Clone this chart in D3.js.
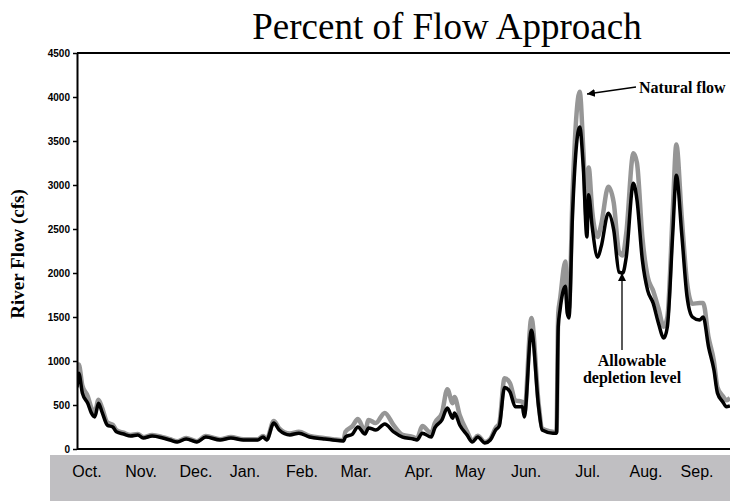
<!DOCTYPE html>
<html>
<head>
<meta charset="utf-8">
<script src="https://cdn.jsdelivr.net/npm/d3@7"></script>
<style>
  body { margin: 0; background: #fff; }
  svg { display: block; }
</style>
</head>
<body>
<script>
var svgWidth = 730;
var svgHeight = 501;

// day of water year (0 = Oct 1)
var days = [0, 1, 3, 6, 8, 10, 12, 14, 17, 20, 22, 26, 30, 34, 37, 42, 48, 52, 56, 61,
  67, 72, 80, 86, 93, 101, 104, 106, 110, 113, 119, 124, 130, 138, 143, 149, 150, 154, 157, 161,
  163, 167, 172, 177, 182, 188, 190, 193, 198, 200, 204, 207, 210, 211, 214, 218, 221, 224, 228, 231,
  234, 236, 239, 242, 245, 249, 250, 254, 258, 260, 266, 268, 269, 270, 273, 274, 275, 277, 281, 283,
  285, 286, 288, 291, 293, 297, 300, 303, 305, 307, 311, 313, 316, 319, 322, 325, 328, 330, 333, 335,
  338, 341, 344, 348, 350, 353, 356, 358, 361, 363, 365];

var naturalFlow = [800, 960, 720, 600, 470, 420, 560, 470, 300, 275, 215, 185, 160, 170, 135, 160, 135, 112, 88, 125,
  88, 148, 112, 135, 112, 112, 148, 112, 318, 235, 175, 195, 148, 125, 112, 100, 195, 260, 340, 205,
  330, 295, 410, 270, 160, 136, 120, 260, 180, 295, 410, 680, 520, 590, 380, 200, 95, 150, 80, 115,
  240, 290, 805, 750, 555, 535, 400, 1490, 520, 235, 195, 190, 1545, 1700, 2130, 1650, 1600, 2900, 4060, 3400,
  2600, 3200, 2700, 2410, 2550, 2980, 2800, 2240, 2200, 2450, 3360, 3250, 2410, 1955, 1800, 1600, 1390, 1500, 2700, 3460,
  2640, 1890, 1650, 1660, 1660, 1270, 1000, 700, 600, 555, 580];

var allowableFlow = [700, 860, 635, 520, 410, 365, 520, 420, 270, 250, 195, 170, 148, 160, 125, 148, 125, 102, 80, 114,
  80, 136, 102, 125, 102, 102, 136, 102, 295, 216, 160, 180, 136, 114, 102, 92, 136, 170, 250, 170,
  240, 216, 285, 195, 136, 114, 102, 180, 136, 240, 330, 465, 350, 410, 270, 160, 80, 136, 68, 102,
  216, 260, 700, 650, 480, 480, 365, 1350, 480, 216, 180, 180, 1390, 1580, 1850, 1545, 1490, 2680, 3660, 3200,
  2410, 2890, 2520, 2180, 2300, 2680, 2490, 2010, 2000, 2180, 3020, 2830, 2150, 1800, 1660, 1430, 1260, 1390, 2450, 3110,
  2450, 1730, 1500, 1465, 1500, 1160, 900, 635, 535, 480, 490];

var months = ["Oct.", "Nov.", "Dec.", "Jan.", "Feb.", "Mar.", "Apr.", "May", "Jun.", "Jul.", "Aug.", "Sep."];
var monthLabelDays = [5.6, 35.8, 66.5, 93.9, 125.8, 156, 191.2, 219.7, 251, 285.5, 318, 346.6];

var yTicks = [0, 500, 1000, 1500, 2000, 2500, 3000, 3500, 4000, 4500];

var svg = d3.select("body")
  .append("svg")
  .attr("width", svgWidth)
  .attr("height", svgHeight);

var xScale = d3.scaleLinear()
  .domain([0, 365])
  .range([77, 730]);

var yScale = d3.scaleLinear()
  .domain([0, 4500])
  .range([449, 53]);

// gray month band
svg.append("rect")
  .attr("x", 50)
  .attr("y", 455)
  .attr("width", svgWidth - 50)
  .attr("height", svgHeight - 455)
  .attr("fill", "#c0bfc2");

svg.append("text")
  .attr("x", 447)
  .attr("y", 39)
  .attr("text-anchor", "middle")
  .style("font-family", "'Liberation Serif', 'Times New Roman', serif")
  .style("font-size", "37px")
  .text("Percent of Flow Approach");

svg.append("text")
  .attr("transform", "rotate(-90)")
  .attr("x", -254)
  .attr("y", 24)
  .attr("text-anchor", "middle")
  .style("font-family", "'Liberation Serif', 'Times New Roman', serif")
  .style("font-weight", "bold")
  .style("font-size", "19px")
  .text("River Flow (cfs)");

svg.append("clipPath")
  .attr("id", "plot")
  .append("rect")
  .attr("x", 77)
  .attr("y", 40)
  .attr("width", 653)
  .attr("height", 410);

var line = d3.line()
  .x(d => xScale(d[0]))
  .y(d => yScale(d[1]))
  .curve(d3.curveMonotoneX);

var natural = days.map((d, i) => [d, naturalFlow[i]]);
var allowable = days.map((d, i) => [d, allowableFlow[i]]);

var lines = svg.append("g").attr("clip-path", "url(#plot)");

lines.append("path")
  .attr("d", line(natural))
  .attr("fill", "none")
  .attr("stroke", "#969696")
  .attr("stroke-width", 4.5)
  .attr("stroke-linejoin", "round");

lines.append("path")
  .attr("d", line(allowable))
  .attr("fill", "none")
  .attr("stroke", "#000")
  .attr("stroke-width", 3.5)
  .attr("stroke-linejoin", "round");

// frame: top line, bottom line, left axis
svg.append("line")
  .attr("x1", 77).attr("x2", 730)
  .attr("y1", yScale(4500)).attr("y2", yScale(4500))
  .attr("stroke", "#000")
  .attr("stroke-width", 2);

svg.append("line")
  .attr("x1", 77).attr("x2", 730)
  .attr("y1", yScale(0)).attr("y2", yScale(0))
  .attr("stroke", "#000")
  .attr("stroke-width", 2);

var leftAxis = d3.axisLeft(yScale)
  .tickValues(yTicks)
  .tickSize(4)
  .tickSizeOuter(0)
  .tickPadding(3)
  .tickFormat(d3.format("d"));

var yAxisG = svg.append("g")
  .attr("transform", "translate(77,0)")
  .call(leftAxis);

yAxisG.select(".domain").attr("stroke-width", 2);
yAxisG.selectAll(".tick line").attr("stroke-width", 1.5);
yAxisG.selectAll(".tick text")
  .style("font-family", "'Liberation Sans', Arial, sans-serif")
  .style("font-weight", "bold")
  .style("font-size", "10px");

svg.selectAll(".month")
  .data(months)
  .enter()
  .append("text")
  .attr("class", "month")
  .attr("x", (d, i) => xScale(monthLabelDays[i]))
  .attr("y", 477)
  .attr("text-anchor", "middle")
  .style("font-family", "'Liberation Sans', Arial, sans-serif")
  .style("font-size", "16px")
  .text(d => d);

// annotations
var defs = svg.append("defs");
defs.append("marker")
  .attr("id", "arrow")
  .attr("viewBox", "0 0 10 10")
  .attr("refX", 10)
  .attr("refY", 5)
  .attr("markerWidth", 8)
  .attr("markerHeight", 8)
  .attr("markerUnits", "userSpaceOnUse")
  .attr("orient", "auto")
  .append("path")
  .attr("d", "M0,0L10,5L0,10Z")
  .attr("fill", "#000");

svg.append("line")
  .attr("x1", 636).attr("y1", 87)
  .attr("x2", 587).attr("y2", 94)
  .attr("stroke", "#000")
  .attr("stroke-width", 1.3)
  .attr("marker-end", "url(#arrow)");

svg.append("text")
  .attr("x", 639)
  .attr("y", 93)
  .style("font-family", "'Liberation Serif', 'Times New Roman', serif")
  .style("font-weight", "bold")
  .style("font-size", "16px")
  .text("Natural flow");

svg.append("line")
  .attr("x1", 622).attr("y1", 350)
  .attr("x2", 622).attr("y2", 273)
  .attr("stroke", "#000")
  .attr("stroke-width", 1.3)
  .attr("marker-end", "url(#arrow)");

svg.append("text")
  .attr("x", 632)
  .attr("y", 366)
  .attr("text-anchor", "middle")
  .style("font-family", "'Liberation Serif', 'Times New Roman', serif")
  .style("font-weight", "bold")
  .style("font-size", "16px")
  .text("Allowable");

svg.append("text")
  .attr("x", 632)
  .attr("y", 383)
  .attr("text-anchor", "middle")
  .style("font-family", "'Liberation Serif', 'Times New Roman', serif")
  .style("font-weight", "bold")
  .style("font-size", "16px")
  .text("depletion level");
</script>
</body>
</html>
